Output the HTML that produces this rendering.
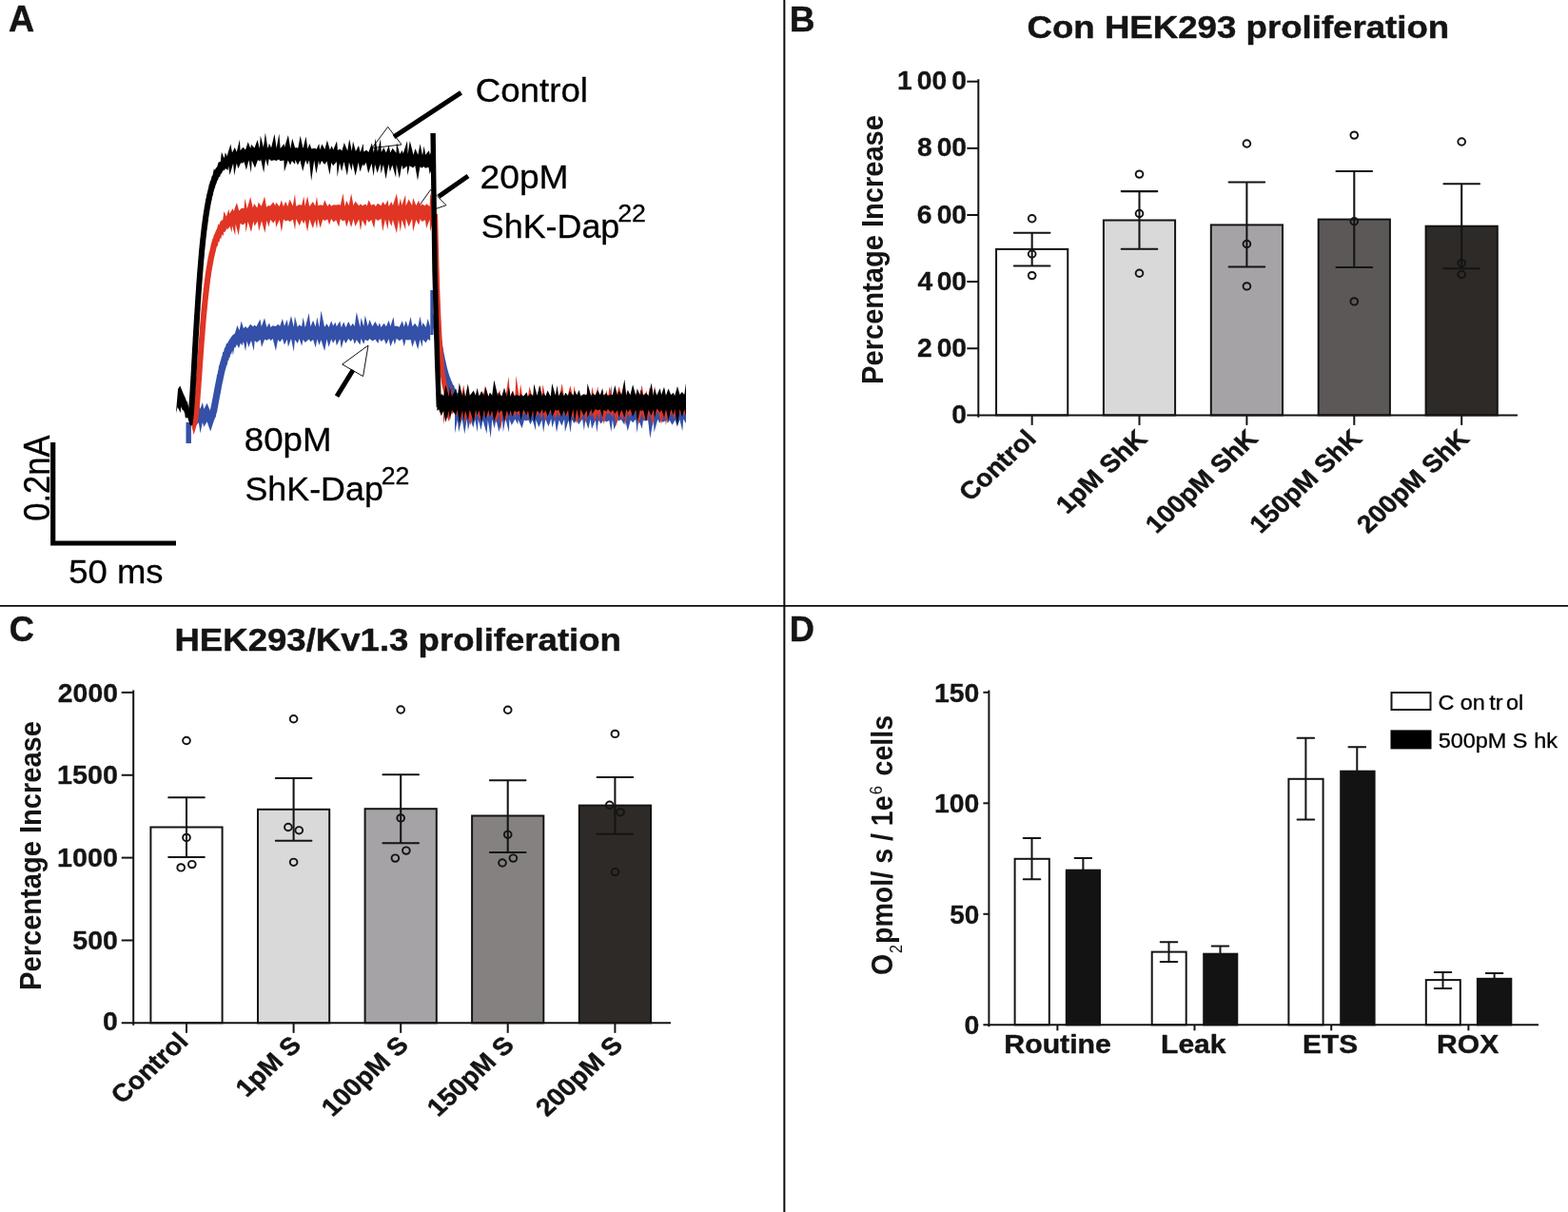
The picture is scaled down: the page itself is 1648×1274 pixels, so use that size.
<!DOCTYPE html>
<html lang="en"><head><meta charset="utf-8"><title>Figure</title>
<style>
html,body{margin:0;padding:0;background:#fff}
body{width:1648px;height:1274px;overflow:hidden}
svg{display:block;font-family:'Liberation Sans', Arial, Helvetica, sans-serif}
text{stroke-linejoin:round}
</style></head>
<body>
<svg width="1648" height="1274" viewBox="0 0 1648 1274">
<rect width="1648" height="1274" fill="#fff"/>
<line x1="0" y1="636.8" x2="1648" y2="636.8" stroke="#0c0c0c" stroke-width="1.8"/>
<line x1="824.35" y1="0" x2="824.35" y2="1274" stroke="#0c0c0c" stroke-width="2.0"/>
<text transform="translate(8.95 33.3) scale(0.9855 1)" font-size="38.2" font-weight="bold" fill="#141414" stroke="#141414" stroke-width="0.45">A</text>
<text transform="translate(829.79 33.3) scale(0.9939 1)" font-size="37.3" font-weight="bold" fill="#141414" stroke="#141414" stroke-width="0.45">B</text>
<text transform="translate(9.85 674) scale(0.9649 1)" font-size="37.5" font-weight="bold" fill="#141414" stroke="#141414" stroke-width="0.45">C</text>
<text transform="translate(829.84 674) scale(0.9729 1)" font-size="37.3" font-weight="bold" fill="#141414" stroke="#141414" stroke-width="0.45">D</text>
<g id="panel-a">
<polygon points="407.7,133.4 391,155.6 422,152" fill="#fff" stroke="#111" stroke-width="1"/>
<polygon points="452.7,199.3 440,217 458,219.5 469,215.7" fill="#fff" stroke="#111" stroke-width="1"/>
<polygon points="387,363 359.7,383 381.6,395.6" fill="#fff" stroke="#111" stroke-width="1"/>
<path d="M198.2 444V466" stroke="#3450a8" stroke-width="5.4" fill="none"/>
<polygon points="199.0,418.9 200.7,431.1 202.7,418.7 205.9,430.9 208.8,425.2 210.5,429.8 212.9,423.1 214.3,429.9 217.6,423.8 220.5,430.9 220.5,426.0 220.4,432.7 220.6,431.5 221.5,428.6 222.0,426.2 222.1,425.7 222.8,421.5 223.0,421.6 223.4,418.6 223.9,416.4 224.3,413.9 224.9,410.9 225.4,407.8 225.6,407.1 226.1,404.5 226.4,402.9 226.9,400.6 227.6,397.1 228.0,393.9 228.3,393.9 229.0,390.6 229.5,388.5 230.3,383.5 230.8,383.3 231.4,380.3 232.0,378.8 232.9,375.0 233.7,373.4 234.1,370.1 234.9,370.3 236.2,364.8 236.7,365.8 238.0,360.7 239.0,361.0 240.6,357.8 241.9,356.0 244.0,352.8 246.9,350.6 249.4,342.1 251.6,347.3 253.6,337.5 256.1,345.2 258.0,342.9 260.1,345.3 263.1,340.7 266.1,343.6 267.2,341.6 269.5,343.2 273.4,335.4 274.8,343.3 278.0,334.2 280.4,343.9 283.1,339.4 284.4,344.0 286.6,342.3 289.9,343.0 292.1,340.7 294.2,342.8 296.9,334.9 298.9,342.7 301.8,336.0 302.9,343.5 306.0,332.1 308.8,343.7 309.9,332.6 312.8,343.8 314.6,341.2 317.1,343.3 318.6,333.5 320.8,344.2 324.7,329.1 326.4,343.3 329.1,336.7 331.7,343.6 333.3,333.3 335.5,344.0 337.5,326.6 341.1,343.8 343.5,340.3 345.6,344.0 348.2,337.3 350.1,342.6 352.5,338.7 353.8,343.2 357.3,337.6 358.7,344.2 361.3,338.3 363.4,344.2 366.2,337.9 368.7,343.1 370.9,339.8 372.7,342.9 374.8,328.0 378.4,343.7 379.6,334.0 382.2,342.9 383.8,331.6 386.6,342.7 388.5,336.1 391.4,343.0 394.4,338.0 397.3,343.2 398.9,339.2 400.5,344.0 403.6,339.7 405.9,343.3 408.6,336.7 410.4,342.9 413.5,333.1 414.8,343.1 416.8,342.4 419.7,343.8 422.8,337.2 424.7,343.4 426.6,337.3 428.9,343.6 431.6,332.9 433.5,343.2 436.0,339.8 439.2,344.0 441.5,332.6 443.6,343.2 444.4,339.1 447.7,344.1 449.6,335.0 452.2,343.4 452.2,357.9 449.6,356.5 447.7,360.2 444.4,357.0 443.6,365.0 441.5,356.7 439.2,367.2 436.0,357.1 433.5,364.8 431.6,357.0 428.9,357.6 426.6,357.0 424.7,364.2 422.8,356.2 419.7,358.2 416.8,355.8 414.8,362.5 413.5,356.8 410.4,364.3 408.6,356.3 405.9,361.9 403.6,356.4 400.5,359.0 398.9,356.0 397.3,361.1 394.4,356.8 391.4,358.5 388.5,355.9 386.6,358.6 383.8,357.1 382.2,361.8 379.6,356.1 378.4,362.4 374.8,357.3 372.7,361.7 370.9,356.0 368.7,359.1 366.2,356.1 363.4,361.0 361.3,356.9 358.7,366.2 357.3,356.3 353.8,363.3 352.5,356.5 350.1,360.8 348.2,356.4 345.6,364.8 343.5,356.6 341.1,368.9 337.5,357.3 335.5,362.8 333.3,356.4 331.7,365.4 329.1,357.0 326.4,359.3 324.7,356.5 320.8,359.9 318.6,357.0 317.1,363.8 314.6,356.1 312.8,361.1 309.9,357.1 308.8,369.7 306.0,356.1 302.9,364.7 301.8,356.7 298.9,362.6 296.9,356.1 294.2,359.4 292.1,357.0 289.9,368.7 286.7,356.0 284.4,358.2 283.2,355.9 280.5,357.7 278.1,356.7 275.0,365.0 273.7,356.9 269.8,360.0 267.7,357.9 266.8,368.9 264.0,358.0 261.3,365.1 259.6,358.4 258.0,368.9 255.9,358.9 254.5,363.3 252.9,360.5 251.1,366.0 248.9,362.1 247.3,365.8 246.4,365.0 244.9,373.6 244.2,368.2 242.9,373.2 242.7,371.0 241.4,376.3 240.7,376.1 240.4,379.0 239.6,379.1 238.7,383.9 238.1,383.8 237.6,386.5 237.1,387.8 236.3,391.1 235.8,392.9 235.1,396.8 234.9,397.1 234.5,399.5 233.7,402.7 233.3,405.1 232.9,406.8 232.5,409.7 232.3,410.2 231.8,413.3 231.2,416.1 230.8,418.6 230.3,420.8 229.8,423.5 229.6,424.4 229.0,428.4 228.8,428.6 228.3,432.2 227.3,435.0 226.9,437.8 225.1,441.5 221.2,453.5 217.6,443.2 214.3,448.7 212.9,444.0 210.5,455.4 208.8,444.2 205.9,447.2 202.7,443.9 200.7,446.3 199.0,443.1" fill="#3450a8"/>
<path d="M453.9 305V352" stroke="#3450a8" stroke-width="3.2" fill="none"/>
<polygon points="460.6,329.5 460.8,331.2 461.2,334.5 461.3,336.0 461.7,338.9 461.8,340.2 462.4,344.4 462.7,346.7 462.8,347.1 463.4,351.5 463.4,352.0 463.8,354.8 464.3,357.7 464.8,360.8 465.1,362.6 465.2,363.5 465.8,366.6 466.2,369.3 466.6,370.9 467.2,374.2 467.4,374.9 468.1,378.9 468.3,379.1 468.9,382.1 469.4,384.2 470.0,387.0 470.8,389.8 471.3,391.8 472.2,394.5 472.6,395.8 473.6,397.9 474.4,400.9 474.9,400.6 475.8,404.1 477.3,405.6 477.9,408.3 479.4,409.0 480.3,412.8 481.7,413.4 482.4,415.3 483.9,413.0 485.3,418.2 487.9,415.5 488.1,420.4 491.4,418.2 492.2,421.6 494.2,417.3 496.3,424.4 498.2,424.0 500.6,424.4 501.8,422.5 505.1,426.1 503.9,436.6 500.6,440.1 499.0,436.8 496.3,439.4 494.0,435.5 491.5,434.9 489.2,432.7 487.7,435.6 484.2,429.7 483.3,432.3 480.4,426.3 478.6,427.3 476.9,421.8 475.8,423.0 474.3,418.3 473.1,417.0 471.6,413.3 470.8,412.7 469.2,408.3 468.2,407.2 467.6,404.3 466.8,402.2 465.7,398.7 465.3,398.2 464.4,394.4 463.9,392.9 463.1,389.4 462.4,387.0 461.8,384.3 461.3,382.1 461.1,380.8 460.3,377.4 460.1,376.1 459.5,373.4 459.1,370.8 458.7,368.7 458.1,365.0 458.0,364.5 457.6,362.2 457.2,359.4 456.7,356.1 456.3,353.6 456.2,352.7 455.6,348.6 455.6,347.9 455.2,345.7 454.7,341.4 454.5,340.3 454.2,337.1 454.0,335.8 453.6,332.2 453.4,330.6" fill="#3450a8"/>
<polygon points="478.0,422.0 480.9,425.9 482.1,422.2 485.7,426.7 488.3,423.0 490.7,425.1 491.9,422.6 494.6,426.6 497.3,422.7 499.3,426.6 501.8,422.2 502.7,426.2 505.6,424.4 507.5,425.5 511.5,416.0 512.8,426.2 515.8,422.1 517.2,425.6 519.7,412.1 521.4,426.3 524.4,420.2 528.0,425.8 528.8,413.5 531.4,425.8 534.9,422.2 535.4,425.3 537.8,413.3 541.4,426.5 544.2,420.5 544.7,425.2 548.6,423.7 551.1,426.5 551.9,415.3 555.4,426.5 557.5,414.8 559.7,426.1 563.1,410.2 563.4,425.1 566.3,416.7 569.6,426.4 571.1,423.6 573.3,425.5 576.5,422.9 579.3,425.6 580.3,422.1 583.1,426.5 585.0,423.2 587.6,426.4 590.4,424.2 593.1,426.4 593.9,420.6 597.5,426.0 599.6,421.4 601.1,425.2 603.3,418.4 606.0,425.7 608.1,422.3 612.1,426.7 613.9,420.0 615.3,426.2 618.3,413.9 620.6,426.2 622.0,413.5 625.9,426.0 627.3,423.6 629.1,425.4 631.6,417.3 634.5,426.5 637.3,417.5 640.2,426.3 642.3,404.6 643.9,425.8 645.4,415.6 649.4,426.6 650.6,422.7 652.7,425.9 656.3,416.0 657.2,425.8 659.7,413.0 662.8,425.6 665.1,422.4 668.2,425.9 669.5,420.0 671.2,426.6 674.8,404.2 676.0,426.5 678.3,415.3 681.1,426.3 683.3,422.4 686.9,426.7 687.5,414.0 691.3,426.4 693.3,412.8 694.5,426.3 696.8,415.8 700.9,425.1 701.7,422.9 703.8,426.5 706.5,424.0 709.6,425.8 711.8,417.5 714.4,425.6 717.3,411.2 718.2,426.0 721.0,415.3 721.0,445.1 718.2,440.6 717.3,453.2 714.4,441.1 711.8,448.8 709.6,441.4 706.5,446.7 703.8,441.8 701.7,445.0 700.9,441.5 696.8,443.8 694.5,441.8 693.3,444.9 691.3,440.7 687.5,454.4 686.9,440.5 683.3,460.8 681.1,441.4 678.3,442.4 676.0,441.8 674.8,450.8 671.2,441.4 669.5,455.2 668.2,440.7 665.1,444.2 662.8,441.4 659.7,453.3 657.2,440.7 656.3,446.5 652.7,441.0 650.6,442.5 649.4,441.4 645.4,451.5 643.9,441.1 642.3,453.9 640.2,441.9 637.3,443.6 634.5,441.6 631.6,445.6 629.1,441.5 627.3,454.7 625.9,441.4 622.0,450.7 620.6,440.5 618.3,450.9 615.3,440.7 613.9,452.8 612.1,440.6 608.1,446.3 606.0,441.5 603.3,445.0 601.1,440.9 599.6,455.1 597.5,441.8 593.9,453.9 593.1,440.8 590.4,447.5 587.6,441.4 585.0,454.5 583.1,440.9 580.3,449.5 579.3,440.3 576.5,448.2 573.3,440.8 571.1,454.7 569.6,441.6 566.3,449.0 563.4,441.2 563.1,452.8 559.7,441.5 557.5,446.2 555.4,441.6 551.9,442.5 551.1,440.9 548.6,450.3 544.7,441.2 544.2,446.2 541.4,440.4 537.8,446.9 535.4,440.7 534.9,454.6 531.4,440.3 528.8,454.2 528.0,441.0 524.4,454.1 521.4,441.1 519.7,450.4 517.2,440.7 515.8,460.6 512.8,441.7 511.5,456.0 507.5,441.5 505.6,451.9 502.7,441.1 501.8,454.2 499.3,441.0 497.3,449.8 494.6,440.6 491.9,452.6 490.7,440.5 488.3,456.2 485.7,440.4 482.1,454.1 480.9,441.3 478.0,455.4" fill="#3450a8"/>
<polygon points="201.5,435.0 202.2,424.9 202.6,437.4 202.7,435.8 202.8,436.1 203.1,433.0 203.4,431.6 203.6,428.7 203.9,425.7 204.0,423.9 204.3,421.3 204.4,420.0 204.7,416.2 204.8,415.3 204.9,413.0 205.2,409.9 205.4,407.0 205.5,404.7 205.7,402.2 205.9,400.2 206.0,398.8 206.1,396.3 206.3,393.5 206.4,391.9 206.7,388.6 206.9,386.1 207.0,384.1 207.1,382.1 207.2,380.7 207.4,377.9 207.6,375.9 207.8,373.4 207.9,370.9 208.1,368.3 208.2,366.8 208.5,363.2 208.7,361.1 208.9,358.5 208.9,357.4 209.2,354.2 209.4,352.0 209.5,350.2 209.7,347.9 209.9,344.5 210.1,342.9 210.3,339.8 210.5,338.5 210.7,335.3 210.9,333.1 211.1,330.6 211.3,328.4 211.5,326.3 211.7,324.7 211.9,322.2 212.2,319.3 212.3,318.2 212.6,315.5 212.8,313.5 213.1,310.6 213.4,307.2 213.6,306.5 213.9,302.7 214.2,300.9 214.4,298.3 214.6,297.3 215.1,293.3 215.3,292.3 215.7,288.8 215.9,287.7 216.4,283.8 216.7,282.5 216.9,280.5 217.3,279.0 217.9,274.6 218.2,274.0 218.6,270.6 218.9,270.0 219.7,265.6 220.3,263.8 220.9,260.9 221.1,260.3 222.1,255.1 222.3,255.6 223.2,251.4 223.9,250.5 224.9,246.9 225.8,245.5 226.8,242.7 228.0,240.6 229.6,235.1 230.3,236.5 231.7,232.4 234.2,231.1 235.4,221.9 237.9,227.8 240.5,219.8 241.2,224.5 244.7,219.3 245.7,222.1 248.9,212.9 251.2,221.5 254.0,218.8 256.5,218.9 257.4,208.6 259.8,219.2 263.2,207.0 265.8,218.4 267.0,213.9 270.3,218.5 271.7,212.6 274.7,216.7 278.1,206.6 280.1,217.7 282.1,216.1 284.0,216.5 287.2,212.2 289.2,216.2 290.0,212.8 293.7,216.9 295.8,210.2 297.9,217.0 300.2,211.7 302.3,217.0 304.5,209.5 307.8,216.4 310.0,203.8 311.2,216.8 314.7,214.9 317.1,215.8 319.3,206.5 320.6,216.6 323.1,206.2 325.3,217.1 328.9,211.9 331.3,216.6 333.0,206.4 334.3,216.3 336.6,215.2 339.4,216.0 341.2,210.3 344.3,216.9 346.1,213.9 348.1,216.4 350.6,215.3 353.2,215.6 356.2,215.1 357.8,215.7 360.5,203.3 362.4,216.9 364.2,210.8 366.6,215.9 369.2,203.5 371.5,216.1 373.4,211.4 377.2,216.3 379.0,214.2 380.8,216.2 384.2,214.6 385.6,216.4 387.6,210.2 390.2,215.8 393.2,214.5 394.7,216.9 397.0,213.7 400.6,216.3 402.2,211.9 404.9,215.6 407.6,210.3 408.6,216.9 411.4,212.0 412.9,216.1 416.9,203.5 418.9,217.0 420.9,208.8 422.3,215.8 426.2,204.7 426.6,216.2 429.7,209.4 433.1,215.9 434.1,208.0 437.4,216.0 440.1,210.5 441.8,216.5 443.3,214.4 447.0,216.2 448.1,214.0 451.6,216.9 452.2,202.8 455.3,216.2 455.3,231.2 452.2,243.4 451.6,230.7 448.1,240.0 447.0,231.3 443.3,232.9 441.8,230.1 440.1,236.6 437.4,231.0 434.1,243.6 433.1,230.1 429.7,238.2 426.6,229.8 426.2,241.6 422.3,230.9 420.9,243.7 418.9,230.8 416.9,245.3 412.9,231.0 411.4,238.1 408.6,230.6 407.6,241.0 404.9,230.4 402.2,243.2 400.6,230.0 397.0,232.1 394.7,230.1 393.2,240.0 390.2,231.1 387.6,233.7 385.6,230.5 384.2,238.0 380.8,231.3 379.0,242.6 377.2,230.4 373.4,238.0 371.5,230.2 369.2,239.1 366.6,231.1 364.2,238.6 362.4,231.2 360.5,232.4 357.8,230.2 356.2,238.4 353.2,231.2 350.6,233.6 348.1,230.1 346.1,236.5 344.3,230.4 341.2,231.9 339.4,230.5 336.6,239.7 334.3,229.9 333.0,240.8 331.3,231.2 328.9,240.1 325.3,230.6 323.1,243.6 320.6,231.3 319.4,235.3 317.1,231.2 314.8,237.3 311.2,230.0 310.1,241.7 307.9,230.8 304.6,233.1 302.4,231.5 300.3,232.5 298.0,230.5 295.9,244.0 293.8,231.0 290.1,239.0 289.3,231.3 287.4,234.6 284.2,231.1 282.4,238.4 280.4,231.8 278.4,244.8 275.0,232.3 272.1,243.1 270.8,232.5 267.5,237.7 266.4,232.6 264.0,244.1 260.6,232.9 258.4,244.3 257.7,234.2 255.3,236.6 252.6,234.7 250.7,247.4 247.7,235.5 247.2,247.6 243.9,237.0 243.7,244.6 241.5,238.1 239.2,241.2 238.6,240.1 236.3,244.1 235.1,243.8 234.8,248.1 233.2,246.4 232.2,251.5 231.3,250.1 230.5,254.6 229.6,254.1 228.9,258.3 228.1,258.7 227.8,259.6 226.9,263.0 226.7,264.5 226.1,266.1 225.5,269.2 224.8,271.9 224.5,274.1 224.1,275.8 223.8,277.8 223.2,280.6 222.8,283.4 222.6,284.0 222.3,286.4 221.9,289.0 221.6,291.2 221.2,293.5 221.0,295.6 220.6,298.5 220.4,300.0 220.2,301.9 219.9,304.7 219.5,307.5 219.4,309.0 219.1,311.5 218.7,314.9 218.5,316.5 218.3,319.6 218.2,320.1 217.8,323.9 217.7,325.5 217.5,327.3 217.3,329.2 217.1,331.8 216.9,333.9 216.7,336.3 216.4,339.2 216.3,340.9 216.1,343.6 215.9,345.5 215.7,348.6 215.5,351.2 215.3,352.7 215.2,355.3 214.9,358.1 214.8,359.3 214.6,361.7 214.5,364.0 214.2,367.4 214.1,369.2 213.9,371.5 213.7,374.1 213.6,376.5 213.4,378.8 213.2,381.3 213.1,383.0 213.0,384.7 212.8,386.9 212.7,389.1 212.4,392.9 212.3,394.0 212.1,397.1 212.0,399.3 211.8,400.9 211.7,402.7 211.5,405.6 211.4,407.6 211.1,410.8 210.9,413.6 210.7,416.1 210.7,416.8 210.4,420.9 210.3,422.0 210.0,425.0 209.9,426.5 209.6,430.0 209.3,432.5 209.1,434.9 208.8,437.3 208.6,439.3 207.5,444.3 203.6,457.0 201.5,448.1" fill="#e03524"/>
<polygon points="460.1,224.9 460.1,226.7 460.2,229.6 460.3,231.8 460.3,235.0 460.3,235.9 460.4,238.6 460.5,240.8 460.5,244.0 460.6,245.3 460.6,248.9 460.7,249.6 460.8,253.0 460.8,255.9 460.9,258.1 460.9,259.3 461.0,261.2 461.1,265.1 461.1,267.8 461.2,269.6 461.2,271.1 461.3,274.4 461.4,276.6 461.4,278.3 461.5,281.1 461.6,283.1 461.7,285.7 461.7,288.3 461.8,289.4 461.9,293.4 462.0,295.9 462.0,297.6 462.1,300.1 462.1,300.9 462.2,303.5 462.4,307.3 462.4,309.3 462.5,311.2 462.6,312.7 462.7,315.8 462.8,318.2 462.9,320.1 462.9,321.9 463.1,325.0 463.1,326.6 463.2,328.8 463.4,332.5 463.5,335.2 463.6,336.0 463.7,338.3 463.8,341.4 463.9,343.1 464.1,346.6 464.2,348.6 464.3,350.6 464.5,354.0 464.6,355.8 464.7,357.1 464.9,359.3 465.1,362.4 465.2,364.3 465.4,367.8 465.5,368.4 465.7,371.2 465.9,373.3 466.2,376.7 466.4,379.2 466.6,381.3 466.7,382.5 467.1,386.2 467.1,386.7 467.5,389.8 467.9,393.2 468.2,395.5 468.3,395.8 468.9,399.5 469.1,400.7 469.6,403.7 470.0,405.3 470.4,407.3 471.2,410.0 471.9,412.3 472.6,414.1 473.5,416.0 474.2,417.4 476.2,419.7 477.2,420.1 473.8,425.9 472.4,424.3 470.0,421.2 468.8,419.0 467.7,416.6 466.9,414.5 466.2,411.9 465.4,408.8 464.9,406.7 464.5,405.0 463.9,401.9 463.7,400.4 463.2,396.8 463.1,396.4 462.8,394.0 462.3,390.4 462.0,387.4 461.9,386.8 461.5,383.1 461.4,381.9 461.2,379.7 461.0,377.2 460.7,373.8 460.5,371.6 460.3,368.9 460.3,368.2 460.0,364.7 459.9,362.8 459.7,359.7 459.5,357.5 459.4,356.1 459.3,354.4 459.1,350.9 459.0,348.9 458.9,347.0 458.7,343.4 458.6,341.6 458.5,338.6 458.4,336.3 458.3,335.4 458.2,332.8 458.0,329.1 457.9,326.9 457.9,325.2 457.7,322.1 457.7,320.3 457.6,318.4 457.5,316.0 457.4,312.9 457.3,311.4 457.3,309.5 457.2,307.5 457.0,303.7 456.9,301.1 456.9,300.3 456.8,297.7 456.8,296.1 456.7,293.6 456.6,289.6 456.5,288.5 456.5,285.9 456.4,283.2 456.3,281.3 456.2,278.5 456.2,276.8 456.1,274.6 456.0,271.3 456.0,269.8 455.9,268.0 455.9,265.3 455.8,261.4 455.7,259.4 455.7,258.2 455.6,256.0 455.6,253.2 455.5,249.7 455.4,249.0 455.4,245.5 455.3,244.1 455.3,240.9 455.2,238.7 455.1,236.0 455.1,235.1 455.1,231.9 455.0,229.7 454.9,226.8 454.9,225.1" fill="#e03524"/>
<polygon points="466.0,417.1 468.4,407.6 471.6,417.3 473.6,403.3 474.9,417.5 477.1,410.2 480.4,418.5 481.7,415.8 484.5,417.7 487.3,404.4 489.2,417.8 490.7,413.4 494.9,418.1 497.2,411.6 498.3,418.2 501.3,411.9 504.4,417.1 506.5,411.9 507.2,418.0 510.0,405.3 512.4,418.6 515.8,412.7 517.7,418.5 519.0,412.1 521.1,417.7 525.4,410.0 526.1,417.1 529.0,416.5 531.2,418.7 534.6,395.5 536.0,417.4 539.2,410.2 541.3,417.9 542.4,394.7 545.7,417.2 547.1,403.4 549.3,417.9 553.2,413.2 554.8,418.2 556.5,406.2 559.7,417.6 562.1,409.0 564.8,418.3 566.9,405.0 569.1,418.0 570.6,403.9 573.1,417.5 576.0,415.5 578.1,418.7 580.6,413.4 583.9,417.9 586.1,411.2 587.7,418.3 590.7,403.0 593.0,417.9 594.1,415.4 596.1,418.5 599.3,405.2 602.5,418.2 603.3,405.4 605.8,418.0 609.6,414.7 610.3,417.3 614.2,413.7 615.2,417.6 618.3,409.9 621.3,418.6 622.2,406.6 625.0,418.1 628.4,406.3 629.2,418.7 631.5,413.9 634.8,418.5 637.5,410.3 639.0,417.9 640.6,406.5 644.1,418.4 645.3,415.4 647.6,418.0 650.5,406.0 654.0,417.3 656.1,414.2 657.6,417.5 659.3,410.3 661.7,418.2 664.9,409.4 667.2,418.1 669.5,410.7 671.1,418.4 674.8,405.7 676.7,417.4 679.4,410.8 681.1,417.8 682.7,407.2 686.1,417.8 688.1,405.8 689.6,418.1 692.0,412.6 695.1,417.7 698.4,409.0 699.8,417.2 702.6,416.2 704.8,418.5 706.4,414.8 708.9,418.1 710.6,413.0 713.2,418.3 716.4,411.9 719.0,418.5 721.0,410.3 721.0,432.8 719.0,436.4 716.4,433.3 713.2,435.4 710.6,433.3 708.9,441.1 706.4,433.3 704.8,437.1 702.6,432.4 699.8,447.2 698.4,433.2 695.1,445.8 692.0,432.8 689.6,434.9 688.1,433.6 686.1,447.8 682.7,432.8 681.1,443.8 679.4,432.7 676.7,443.1 674.8,433.7 671.1,446.0 669.5,433.1 667.2,434.8 664.9,432.7 661.7,438.5 659.3,432.6 657.6,448.0 656.1,432.9 654.0,442.1 650.5,433.7 647.6,448.1 645.3,432.6 644.1,439.0 640.6,433.8 639.0,435.6 637.5,433.8 634.8,446.0 631.5,432.8 629.2,443.3 628.4,433.8 625.0,442.7 622.2,432.6 621.3,437.5 618.3,433.6 615.2,444.5 614.2,432.4 610.3,442.8 609.6,433.8 605.8,445.6 603.3,433.2 602.5,440.9 599.3,432.4 596.1,437.6 594.1,432.4 593.0,436.8 590.7,432.8 587.7,438.9 586.1,433.0 583.9,440.6 580.6,432.9 578.1,434.6 576.0,433.1 573.1,441.4 570.6,433.1 569.1,442.1 566.9,432.6 564.8,436.9 562.1,433.2 559.7,437.1 556.5,433.0 554.8,440.8 553.2,432.4 549.3,436.0 547.1,433.5 545.7,437.1 542.4,433.2 541.3,438.9 539.2,432.6 536.0,436.8 534.6,432.7 531.2,442.9 529.0,432.9 526.1,452.3 525.4,433.6 521.1,444.5 519.0,433.9 517.7,439.8 515.8,433.9 512.4,438.9 510.0,433.9 507.2,437.6 506.5,433.2 504.4,442.1 501.3,433.1 498.3,441.7 497.2,432.8 494.9,447.2 490.7,433.3 489.2,446.7 487.3,432.8 484.5,442.1 481.7,432.5 480.4,437.0 477.1,432.6 474.9,435.7 473.6,433.8 471.6,442.9 468.4,433.4 466.0,446.5" fill="#e03524"/>
<polygon points="187.1,408.7 189.3,405.5 193.0,414.5 194.7,418.0 196.2,422.3 196.8,422.0 198.0,427.1 199.2,431.5 199.5,432.7 200.4,436.0 195.6,439.8 194.6,438.2 194.4,435.4 193.3,432.3 192.3,431.1 191.8,431.2 190.3,427.5 189.7,434.0 186.7,427.9 184.9,434.3" fill="#000"/>
<polygon points="196.1,435.6 197.4,438.6 197.1,439.9 197.4,437.7 197.8,434.5 197.9,432.8 198.2,429.9 198.2,429.6 198.5,425.5 198.6,423.9 198.8,421.5 198.9,420.4 199.1,417.3 199.3,414.6 199.4,412.6 199.6,410.3 199.7,407.5 199.8,405.6 199.9,404.2 200.1,401.0 200.3,398.1 200.4,395.7 200.5,394.9 200.7,391.1 200.8,389.6 200.9,387.4 201.1,383.8 201.1,383.4 201.3,379.8 201.4,378.8 201.6,375.0 201.6,374.4 201.8,370.9 201.9,369.5 202.0,366.7 202.1,365.2 202.3,362.4 202.5,359.3 202.6,356.6 202.7,354.6 202.8,353.0 203.0,350.4 203.1,348.0 203.2,346.2 203.4,343.4 203.6,340.2 203.7,338.7 203.8,336.8 204.0,333.6 204.1,331.2 204.2,330.6 204.4,327.7 204.6,324.2 204.7,322.8 204.8,321.3 205.0,318.2 205.1,316.0 205.3,313.2 205.4,311.3 205.7,307.8 205.8,306.1 205.9,305.0 206.1,301.8 206.2,299.9 206.3,298.2 206.5,295.8 206.8,291.9 206.9,290.5 207.0,288.3 207.3,285.5 207.5,282.9 207.6,281.6 207.8,279.5 208.0,276.6 208.2,274.2 208.4,272.1 208.6,269.5 208.8,267.7 209.0,264.5 209.2,262.8 209.5,259.7 209.7,257.6 210.0,254.8 210.1,253.9 210.3,251.3 210.7,248.8 210.8,247.2 211.1,244.9 211.4,242.1 211.6,240.5 211.9,237.3 212.3,234.7 212.6,232.2 212.9,230.2 213.3,227.0 213.7,225.0 213.9,222.7 214.4,220.5 214.8,217.5 215.1,216.3 215.5,213.6 215.8,212.2 216.3,209.1 216.7,207.9 217.2,204.8 218.0,202.1 218.5,199.4 219.1,197.6 219.9,193.0 220.1,194.1 220.8,190.5 221.8,189.0 222.5,185.6 223.6,183.9 224.9,177.3 225.9,179.1 226.6,177.1 228.2,175.2 229.6,170.4 231.7,170.0 232.9,159.7 235.6,166.2 236.9,160.2 238.6,164.1 242.4,151.4 244.0,160.6 246.7,155.0 248.8,159.8 251.9,146.7 252.6,158.3 255.5,154.8 258.0,157.5 260.7,149.3 263.2,156.1 264.1,151.9 267.5,155.4 270.6,147.1 272.8,156.0 273.8,142.5 276.9,154.8 278.9,139.6 281.4,156.0 282.9,150.7 285.1,155.2 288.5,140.7 290.6,155.8 293.3,140.5 294.7,155.9 298.6,150.9 299.0,155.1 302.9,142.1 305.3,156.2 307.2,145.5 310.3,156.3 310.6,154.7 313.2,155.7 315.7,142.7 318.5,156.0 321.5,143.6 323.4,156.5 325.3,150.9 327.5,156.6 330.5,155.7 332.7,156.8 335.3,151.1 336.2,157.4 338.4,151.5 341.4,157.1 343.9,147.5 346.8,157.6 348.7,153.2 350.3,157.4 354.1,148.3 354.9,158.0 357.3,156.5 359.4,158.6 361.8,150.1 365.2,158.4 367.2,146.2 369.8,158.8 371.0,148.4 373.9,159.1 377.0,152.9 378.7,159.9 381.7,150.7 382.3,159.5 385.1,157.8 387.4,160.0 390.9,150.2 392.9,160.5 394.4,145.4 396.9,159.5 400.0,145.7 400.8,160.1 403.3,155.1 405.8,160.4 408.7,152.7 410.2,160.4 412.6,155.7 416.4,160.7 417.0,149.7 420.1,162.0 422.6,158.0 423.8,161.3 428.0,147.9 428.7,161.9 430.8,147.9 434.5,162.7 436.5,156.3 439.3,162.8 441.6,151.2 444.0,163.3 445.7,153.6 447.2,162.8 450.8,158.3 452.0,163.0 454.7,154.3 454.5,175.0 451.7,183.3 450.5,175.7 446.9,176.7 445.4,174.9 443.7,176.4 441.3,175.4 439.0,189.7 436.2,174.0 434.2,176.6 430.5,174.2 428.4,184.5 427.7,174.4 423.5,177.9 422.3,173.5 419.8,187.4 416.7,172.9 416.1,186.5 412.3,173.5 409.9,180.8 408.4,172.5 405.5,188.3 403.0,173.0 400.5,182.5 399.7,172.3 396.6,181.7 394.1,172.7 392.6,185.2 390.6,171.7 387.1,182.3 384.8,171.1 382.0,174.8 381.4,172.2 378.4,180.6 376.7,170.7 373.6,184.8 370.7,171.5 369.5,179.4 366.9,170.4 364.9,184.5 361.5,169.9 359.1,180.3 357.0,171.2 354.6,186.0 353.8,169.9 350.0,174.3 348.4,170.7 346.5,183.7 343.6,169.5 341.1,173.1 338.1,169.1 335.9,174.1 335.0,168.7 332.4,182.4 330.2,168.5 327.2,189.9 325.0,168.2 323.1,173.2 321.2,168.2 318.2,179.9 315.4,168.4 312.9,173.6 310.4,167.9 310.1,172.7 306.9,168.9 305.0,173.6 302.7,168.5 298.8,180.5 298.4,168.5 294.5,169.2 293.1,167.4 290.4,169.0 288.4,168.2 285.0,169.0 282.8,167.0 281.4,175.1 279.1,167.2 277.2,181.6 274.1,167.2 273.2,169.8 271.1,168.1 268.0,176.4 264.7,168.8 263.9,181.7 261.5,168.3 258.9,178.7 256.6,170.2 253.8,172.0 253.4,170.6 250.4,177.2 248.7,171.7 246.2,184.6 245.1,171.8 241.5,183.9 240.2,174.5 239.4,178.9 236.9,177.1 236.2,178.8 234.2,179.6 233.1,182.1 231.8,183.3 231.1,186.2 230.3,185.6 229.1,188.8 228.1,190.5 227.4,193.0 226.5,194.7 225.8,198.2 225.7,197.3 224.9,200.2 224.3,202.3 223.8,205.1 223.0,207.5 222.5,210.7 222.2,211.4 221.7,214.2 221.4,215.4 221.0,218.3 220.7,219.4 220.3,222.3 219.8,224.9 219.6,226.8 219.2,228.7 218.9,232.2 218.6,233.4 218.3,236.4 217.9,238.8 217.6,241.7 217.3,243.3 217.1,246.0 216.8,248.1 216.6,249.8 216.3,252.5 216.1,254.8 216.0,256.0 215.7,258.8 215.5,260.5 215.2,263.7 215.0,265.6 214.8,268.7 214.6,270.5 214.4,272.8 214.2,275.1 214.0,277.5 213.7,280.2 213.6,282.5 213.5,283.8 213.3,286.2 213.0,289.3 212.9,291.2 212.8,292.7 212.5,296.6 212.3,298.9 212.2,300.7 212.1,302.4 211.8,305.8 211.7,306.9 211.6,308.4 211.4,312.0 211.3,313.9 211.1,316.6 210.9,318.8 210.7,321.9 210.7,323.4 210.6,324.9 210.3,328.2 210.2,331.1 210.1,331.8 210.0,334.2 209.8,337.2 209.7,339.3 209.6,340.6 209.4,344.0 209.2,346.7 209.1,348.5 209.0,350.9 208.8,353.5 208.7,355.1 208.6,357.2 208.5,359.9 208.3,362.9 208.1,365.8 208.0,367.4 207.9,370.3 207.8,371.5 207.6,375.0 207.6,375.6 207.4,379.3 207.3,380.4 207.1,384.0 207.1,384.4 206.9,388.0 206.7,390.1 206.7,391.7 206.4,395.5 206.4,396.2 206.3,398.7 206.1,401.6 205.9,404.8 205.8,406.2 205.7,408.1 205.5,410.7 205.4,413.3 205.3,415.3 205.1,418.1 204.9,421.2 204.8,422.2 204.6,424.7 204.5,426.1 204.2,430.3 204.1,431.0 203.9,433.7 203.7,435.4 203.4,438.7 203.1,441.4 202.2,447.0 199.9,447.6" fill="#000"/>
<path d="M455.1 140 L457 285 L459.6 380 L461.3 428" fill="none" stroke="#000" stroke-width="5.4" stroke-linejoin="round"/>
<polygon points="459.7,412.3 461.5,416.6 464.2,413.9 466.3,416.2 468.3,404.4 471.9,416.9 472.8,406.2 474.8,416.8 479.1,409.0 480.9,416.4 482.8,402.5 486.1,416.9 487.3,409.5 489.0,417.4 491.8,403.4 493.8,415.8 497.8,410.5 499.9,415.8 501.5,407.8 503.6,416.6 506.1,411.1 509.0,415.9 510.3,406.5 513.4,416.8 514.8,412.5 517.2,415.8 519.3,399.5 523.4,416.7 523.9,412.4 527.4,416.6 530.0,407.5 532.8,416.9 534.9,406.4 536.6,417.1 538.5,410.9 540.9,416.8 542.7,414.5 546.0,416.6 547.5,414.2 550.1,416.5 553.6,412.3 554.9,417.0 557.2,413.8 560.3,416.1 561.2,403.5 564.5,415.7 567.4,405.0 569.8,416.5 571.0,413.1 573.5,416.2 575.5,410.5 578.8,416.7 580.2,402.9 583.8,415.6 585.6,404.9 587.0,416.2 590.0,411.1 592.8,416.6 594.3,412.7 597.1,416.0 598.7,411.2 602.4,415.8 604.0,410.4 606.2,415.3 608.7,410.1 610.2,415.9 613.5,414.5 616.7,415.2 617.5,403.0 621.3,416.5 622.5,413.6 625.8,415.3 628.3,410.2 630.8,415.3 633.2,408.1 634.4,415.6 637.3,413.3 638.9,416.1 642.2,414.3 643.8,415.2 646.3,405.0 649.1,416.1 650.3,411.1 653.2,415.1 656.4,398.8 658.3,416.2 659.8,409.8 662.4,415.2 665.1,404.2 668.3,415.9 669.7,408.4 672.9,415.8 673.6,409.4 676.1,415.4 679.1,412.9 681.6,416.2 684.6,402.4 686.8,416.1 688.0,407.9 690.3,415.6 693.7,408.3 695.1,414.9 698.0,406.8 699.9,416.1 702.5,408.6 705.2,414.9 707.9,412.7 709.1,416.2 712.0,406.1 714.6,414.9 716.7,412.2 719.3,414.8 721.0,402.6 721.0,436.9 719.3,430.2 716.8,438.3 714.6,429.8 712.0,447.0 709.1,429.6 708.0,436.3 705.3,430.2 702.6,441.5 699.9,430.1 698.0,438.5 695.1,430.6 693.7,433.7 690.3,429.5 688.0,439.3 686.8,430.2 684.6,436.8 681.6,430.8 679.1,442.9 676.1,430.9 673.6,432.2 673.0,429.7 669.8,443.0 668.3,430.6 665.1,437.9 662.5,430.1 659.9,433.6 658.4,430.1 656.5,438.7 653.2,430.7 650.3,438.4 649.2,431.0 646.3,434.8 643.8,430.8 642.2,433.5 638.9,430.0 637.3,432.6 634.5,430.8 633.3,438.6 630.8,430.2 628.3,431.6 625.8,429.9 622.5,434.9 621.3,430.1 617.6,438.8 616.7,431.3 613.5,436.7 610.3,430.3 608.7,441.0 606.3,430.1 604.0,443.4 602.4,429.9 598.7,444.7 597.1,430.8 594.3,436.9 592.8,431.5 590.0,437.9 587.0,430.3 585.6,431.9 583.9,430.6 580.2,437.7 578.8,430.2 575.5,437.4 573.5,431.4 571.0,434.8 569.8,430.3 567.4,434.8 564.5,431.6 561.3,443.8 560.3,431.1 557.2,442.7 554.9,431.3 553.6,436.4 550.1,430.5 547.5,441.9 546.0,431.7 542.7,433.5 540.9,431.5 538.5,437.7 536.6,431.2 534.9,437.6 532.8,431.4 530.0,442.8 527.4,431.0 524.0,434.4 523.5,430.3 519.3,442.8 517.2,431.8 514.8,437.8 513.4,431.1 510.3,440.7 509.0,430.5 506.1,444.0 503.6,431.4 501.5,436.5 500.0,430.7 497.8,443.8 493.8,430.6 491.9,441.6 489.0,431.6 487.3,441.8 486.1,431.0 482.8,445.2 480.9,430.8 479.1,436.4 474.8,431.1 472.8,442.4 471.9,431.8 468.3,443.9 466.3,431.6 463.9,437.2 461.1,430.3 459.3,432.1" fill="#000"/>
<line x1="414" y1="143.8" x2="484.6" y2="97.3" stroke="#000" stroke-width="5"/>
<line x1="461" y1="206.6" x2="492" y2="185" stroke="#000" stroke-width="5"/>
<line x1="371" y1="389" x2="354" y2="416.6" stroke="#000" stroke-width="5"/>
<text transform="translate(499.66 107) scale(1.0397 1)" font-size="35.3" fill="#000" stroke="#000" stroke-width="0.3">Control</text>
<text transform="translate(504.54 198.4) scale(1.0539 1)" font-size="35.3" fill="#000" stroke="#000" stroke-width="0.3">20pM</text>
<text transform="scale(1.016 1)" font-size="35.3" fill="#000" stroke="#000" stroke-width="0.3"><tspan x="497.82" y="249.8">ShK-Dap</tspan><tspan x="639.04" y="232.7" font-size="26.3">22</tspan></text>
<text transform="translate(256.83 474) scale(1.0388 1)" font-size="35.3" fill="#000" stroke="#000" stroke-width="0.3">80pM</text>
<text transform="scale(1.016 1)" font-size="35.3" fill="#000" stroke="#000" stroke-width="0.3"><tspan x="253.33" y="526">ShK-Dap</tspan><tspan x="394.35" y="508.9" font-size="26.3">22</tspan></text>
<path d="M55.7 465V571H185" fill="none" stroke="#000" stroke-width="5.2" stroke-linejoin="miter"/>
<text transform="translate(51.5 547.71) rotate(-90) scale(0.9789 1.09)" font-size="35.3" fill="#000" stroke="#000" stroke-width="0.3">0.2nA</text>
<text transform="translate(72.24 613) scale(1.0334 1)" font-size="35.3" fill="#000" stroke="#000" stroke-width="0.3">50 ms</text>
</g>
<g id="panel-b">
<text transform="translate(1079.53 39.9) scale(1.097 1)" font-size="33.4" font-weight="bold" fill="#141414" stroke="#141414" stroke-width="0.45">Con HEK293 proliferation</text>
<text transform="translate(928.3 403.89) rotate(-90) scale(0.9929 1.08)" font-size="29.3" font-weight="bold" fill="#141414">Percentage Increase</text>
<rect x="1047.05" y="261.9" width="75.2" height="174.5" fill="#ffffff" stroke="#141414" stroke-width="2"/>
<rect x="1159.9" y="231.5" width="75.2" height="204.9" fill="#d9d9d9" stroke="#141414" stroke-width="2"/>
<rect x="1272.8" y="236.4" width="75.2" height="200" fill="#a5a3a5" stroke="#141414" stroke-width="2"/>
<rect x="1385.7" y="230.6" width="75.2" height="205.8" fill="#5c5858" stroke="#141414" stroke-width="2"/>
<rect x="1498.6" y="237.7" width="75.2" height="198.7" fill="#2e2a27" stroke="#141414" stroke-width="2"/>
<path d="M1065.85 244.7H1103.45M1084.65 244.7V279.4M1065.85 279.4H1103.45" fill="none" stroke="#141414" stroke-width="2.05" stroke-linecap="round"/>
<path d="M1178.7 201.1H1216.3M1197.5 201.1V261.8M1178.7 261.8H1216.3" fill="none" stroke="#141414" stroke-width="2.05" stroke-linecap="round"/>
<path d="M1291.6 191.5H1329.2M1310.4 191.5V280.5M1291.6 280.5H1329.2" fill="none" stroke="#141414" stroke-width="2.05" stroke-linecap="round"/>
<path d="M1404.5 180H1442.1M1423.3 180V280.9M1404.5 280.9H1442.1" fill="none" stroke="#141414" stroke-width="2.05" stroke-linecap="round"/>
<path d="M1517.4 193.3H1555M1536.2 193.3V282.3M1517.4 282.3H1555" fill="none" stroke="#141414" stroke-width="2.05" stroke-linecap="round"/>
<ellipse cx="1084.65" cy="229.7" rx="3.85" ry="3.7" fill="none" stroke="#141414" stroke-width="1.95"/>
<ellipse cx="1084.65" cy="267" rx="3.85" ry="3.7" fill="none" stroke="#141414" stroke-width="1.95"/>
<ellipse cx="1084.65" cy="289.6" rx="3.85" ry="3.7" fill="none" stroke="#141414" stroke-width="1.95"/>
<ellipse cx="1197.5" cy="183.1" rx="3.85" ry="3.7" fill="none" stroke="#141414" stroke-width="1.95"/>
<ellipse cx="1197.5" cy="224.5" rx="3.85" ry="3.7" fill="none" stroke="#141414" stroke-width="1.95"/>
<ellipse cx="1197.5" cy="287.2" rx="3.85" ry="3.7" fill="none" stroke="#141414" stroke-width="1.95"/>
<ellipse cx="1310.4" cy="151" rx="3.85" ry="3.7" fill="none" stroke="#141414" stroke-width="1.95"/>
<ellipse cx="1310.4" cy="256.5" rx="3.85" ry="3.7" fill="none" stroke="#141414" stroke-width="1.95"/>
<ellipse cx="1310.4" cy="300.9" rx="3.85" ry="3.7" fill="none" stroke="#141414" stroke-width="1.95"/>
<ellipse cx="1423.3" cy="142.1" rx="3.85" ry="3.7" fill="none" stroke="#141414" stroke-width="1.95"/>
<ellipse cx="1423.3" cy="232.7" rx="3.85" ry="3.7" fill="none" stroke="#141414" stroke-width="1.95"/>
<ellipse cx="1423.3" cy="316.9" rx="3.85" ry="3.7" fill="none" stroke="#141414" stroke-width="1.95"/>
<ellipse cx="1536.2" cy="149" rx="3.85" ry="3.7" fill="none" stroke="#141414" stroke-width="1.95"/>
<ellipse cx="1536.2" cy="276.6" rx="3.85" ry="3.7" fill="none" stroke="#141414" stroke-width="1.95"/>
<ellipse cx="1536.2" cy="288.5" rx="3.85" ry="3.7" fill="none" stroke="#141414" stroke-width="1.95"/>
<path d="M1028.3 83.3V438.79999999999995M1016.3 436.4H1595" fill="none" stroke="#141414" stroke-width="2"/>
<line x1="1016.3" y1="85.7" x2="1028.3" y2="85.7" stroke="#141414" stroke-width="2"/>
<line x1="1016.3" y1="155.84" x2="1028.3" y2="155.84" stroke="#141414" stroke-width="2"/>
<line x1="1016.3" y1="225.98" x2="1028.3" y2="225.98" stroke="#141414" stroke-width="2"/>
<line x1="1016.3" y1="296.12" x2="1028.3" y2="296.12" stroke="#141414" stroke-width="2"/>
<line x1="1016.3" y1="366.26" x2="1028.3" y2="366.26" stroke="#141414" stroke-width="2"/>
<line x1="1084.65" y1="436.4" x2="1084.65" y2="446.9" stroke="#141414" stroke-width="2"/>
<line x1="1197.5" y1="436.4" x2="1197.5" y2="446.9" stroke="#141414" stroke-width="2"/>
<line x1="1310.4" y1="436.4" x2="1310.4" y2="446.9" stroke="#141414" stroke-width="2"/>
<line x1="1423.3" y1="436.4" x2="1423.3" y2="446.9" stroke="#141414" stroke-width="2"/>
<line x1="1536.2" y1="436.4" x2="1536.2" y2="446.9" stroke="#141414" stroke-width="2"/>
<text transform="scale(1.035 1)" font-size="27.3" font-weight="bold" fill="#141414" stroke="#141414" stroke-width="0.3"><tspan x="911.14" y="94.3">1</tspan><tspan x="931.24" y="94.3">0</tspan><tspan x="946.34" y="94.3">0</tspan><tspan x="966.54" y="94.3">0</tspan></text>
<text transform="scale(1.035 1)" font-size="27.3" font-weight="bold" fill="#141414" stroke="#141414" stroke-width="0.3"><tspan x="931.37" y="164.44">8</tspan><tspan x="951.34" y="164.44">0</tspan><tspan x="966.54" y="164.44">0</tspan></text>
<text transform="scale(1.035 1)" font-size="27.3" font-weight="bold" fill="#141414" stroke="#141414" stroke-width="0.3"><tspan x="931.24" y="234.58">6</tspan><tspan x="951.34" y="234.58">0</tspan><tspan x="966.54" y="234.58">0</tspan></text>
<text transform="scale(1.035 1)" font-size="27.3" font-weight="bold" fill="#141414" stroke="#141414" stroke-width="0.3"><tspan x="931.78" y="304.72">4</tspan><tspan x="951.34" y="304.72">0</tspan><tspan x="966.54" y="304.72">0</tspan></text>
<text transform="scale(1.035 1)" font-size="27.3" font-weight="bold" fill="#141414" stroke="#141414" stroke-width="0.3"><tspan x="931.37" y="374.86">2</tspan><tspan x="951.34" y="374.86">0</tspan><tspan x="966.54" y="374.86">0</tspan></text>
<text transform="scale(1.035 1)" font-size="27.3" font-weight="bold" fill="#141414" stroke="#141414" stroke-width="0.3"><tspan x="966.54" y="445">0</tspan></text>
<text transform="translate(1090.65 462.6) scale(1.09 1) rotate(-45) scale(1.0 1)" font-size="26" font-weight="bold" text-anchor="end" fill="#141414" stroke="#141414" stroke-width="0.45">Control</text>
<text transform="translate(1207.1 462.6) scale(1.09 1) rotate(-45) scale(1.0 1)" font-size="26" font-weight="bold" text-anchor="end" fill="#141414" stroke="#141414" stroke-width="0.45">1pM ShK</text>
<text transform="translate(1323.5 462.6) scale(1.09 1) rotate(-45) scale(1.0 1)" font-size="26" font-weight="bold" text-anchor="end" fill="#141414" stroke="#141414" stroke-width="0.45">100pM ShK</text>
<text transform="translate(1432.9 462.6) scale(1.09 1) rotate(-45) scale(1.0 1)" font-size="26" font-weight="bold" text-anchor="end" fill="#141414" stroke="#141414" stroke-width="0.45">150pM ShK</text>
<text transform="translate(1545.8 462.6) scale(1.09 1) rotate(-45) scale(1.0 1)" font-size="26" font-weight="bold" text-anchor="end" fill="#141414" stroke="#141414" stroke-width="0.45">200pM ShK</text>
</g>
<g id="panel-c">
<text transform="translate(183.42 684.4) scale(1.1021 1)" font-size="33.2" font-weight="bold" fill="#141414" stroke="#141414" stroke-width="0.45">HEK293/Kv1.3 proliferation</text>
<text transform="translate(43.2 1040.89) rotate(-90) scale(0.9929 1.08)" font-size="29.3" font-weight="bold" fill="#141414">Percentage Increase</text>
<rect x="158.4" y="869.5" width="75.2" height="205.8" fill="#ffffff" stroke="#141414" stroke-width="2"/>
<rect x="271" y="850.8" width="75.2" height="224.5" fill="#d9d9d9" stroke="#141414" stroke-width="2"/>
<rect x="383.6" y="850.2" width="75.2" height="225.1" fill="#a5a3a5" stroke="#141414" stroke-width="2"/>
<rect x="496.1" y="857.5" width="75.2" height="217.8" fill="#858180" stroke="#141414" stroke-width="2"/>
<rect x="608.8" y="846.6" width="75.2" height="228.7" fill="#2e2a27" stroke="#141414" stroke-width="2"/>
<path d="M177.2 838.2H214.8M196 838.2V901M177.2 901H214.8" fill="none" stroke="#141414" stroke-width="2.05" stroke-linecap="round"/>
<path d="M289.8 818H327.4M308.6 818V883.7M289.8 883.7H327.4" fill="none" stroke="#141414" stroke-width="2.05" stroke-linecap="round"/>
<path d="M402.4 814.2H440M421.2 814.2V886.3M402.4 886.3H440" fill="none" stroke="#141414" stroke-width="2.05" stroke-linecap="round"/>
<path d="M514.9 820.2H552.5M533.7 820.2V896M514.9 896H552.5" fill="none" stroke="#141414" stroke-width="2.05" stroke-linecap="round"/>
<path d="M627.6 817H665.2M646.4 817V876.8M627.6 876.8H665.2" fill="none" stroke="#141414" stroke-width="2.05" stroke-linecap="round"/>
<ellipse cx="196" cy="778.5" rx="3.85" ry="3.7" fill="none" stroke="#141414" stroke-width="1.95"/>
<ellipse cx="196" cy="880.4" rx="3.85" ry="3.7" fill="none" stroke="#141414" stroke-width="1.95"/>
<ellipse cx="190.2" cy="911.9" rx="3.85" ry="3.7" fill="none" stroke="#141414" stroke-width="1.95"/>
<ellipse cx="201.8" cy="908.6" rx="3.85" ry="3.7" fill="none" stroke="#141414" stroke-width="1.95"/>
<ellipse cx="308.6" cy="755.7" rx="3.85" ry="3.7" fill="none" stroke="#141414" stroke-width="1.95"/>
<ellipse cx="302.9" cy="869.5" rx="3.85" ry="3.7" fill="none" stroke="#141414" stroke-width="1.95"/>
<ellipse cx="314.3" cy="872.8" rx="3.85" ry="3.7" fill="none" stroke="#141414" stroke-width="1.95"/>
<ellipse cx="308.6" cy="906.3" rx="3.85" ry="3.7" fill="none" stroke="#141414" stroke-width="1.95"/>
<ellipse cx="421.2" cy="746" rx="3.85" ry="3.7" fill="none" stroke="#141414" stroke-width="1.95"/>
<ellipse cx="421.2" cy="859.9" rx="3.85" ry="3.7" fill="none" stroke="#141414" stroke-width="1.95"/>
<ellipse cx="426.9" cy="894.1" rx="3.85" ry="3.7" fill="none" stroke="#141414" stroke-width="1.95"/>
<ellipse cx="415.4" cy="902.1" rx="3.85" ry="3.7" fill="none" stroke="#141414" stroke-width="1.95"/>
<ellipse cx="533.7" cy="746.2" rx="3.85" ry="3.7" fill="none" stroke="#141414" stroke-width="1.95"/>
<ellipse cx="533.7" cy="877.3" rx="3.85" ry="3.7" fill="none" stroke="#141414" stroke-width="1.95"/>
<ellipse cx="539.4" cy="902.1" rx="3.85" ry="3.7" fill="none" stroke="#141414" stroke-width="1.95"/>
<ellipse cx="528" cy="907" rx="3.85" ry="3.7" fill="none" stroke="#141414" stroke-width="1.95"/>
<ellipse cx="646.4" cy="771.4" rx="3.85" ry="3.7" fill="none" stroke="#141414" stroke-width="1.95"/>
<ellipse cx="640.7" cy="846.2" rx="3.85" ry="3.7" fill="none" stroke="#141414" stroke-width="1.95"/>
<ellipse cx="652.1" cy="853.8" rx="3.85" ry="3.7" fill="none" stroke="#141414" stroke-width="1.95"/>
<ellipse cx="646.4" cy="916.6" rx="3.85" ry="3.7" fill="none" stroke="#141414" stroke-width="1.95"/>
<path d="M140.2 725.5V1077.7M127.69999999999999 1075.3H705" fill="none" stroke="#141414" stroke-width="2"/>
<line x1="127.7" y1="727.9" x2="140.2" y2="727.9" stroke="#141414" stroke-width="2"/>
<line x1="127.7" y1="814.75" x2="140.2" y2="814.75" stroke="#141414" stroke-width="2"/>
<line x1="127.7" y1="901.6" x2="140.2" y2="901.6" stroke="#141414" stroke-width="2"/>
<line x1="127.7" y1="988.45" x2="140.2" y2="988.45" stroke="#141414" stroke-width="2"/>
<line x1="196" y1="1075.3" x2="196" y2="1085.8" stroke="#141414" stroke-width="2"/>
<line x1="308.6" y1="1075.3" x2="308.6" y2="1085.8" stroke="#141414" stroke-width="2"/>
<line x1="421.2" y1="1075.3" x2="421.2" y2="1085.8" stroke="#141414" stroke-width="2"/>
<line x1="533.7" y1="1075.3" x2="533.7" y2="1085.8" stroke="#141414" stroke-width="2"/>
<line x1="646.4" y1="1075.3" x2="646.4" y2="1085.8" stroke="#141414" stroke-width="2"/>
<text transform="translate(60.85 737.5) scale(1.0348 1)" font-size="27.4" font-weight="bold" fill="#141414" stroke="#141414" stroke-width="0.3">2000</text>
<text transform="translate(59.97 824.35) scale(1.0494 1)" font-size="27.4" font-weight="bold" fill="#141414" stroke="#141414" stroke-width="0.3">1500</text>
<text transform="translate(59.97 911.2) scale(1.0494 1)" font-size="27.4" font-weight="bold" fill="#141414" stroke="#141414" stroke-width="0.3">1000</text>
<text transform="translate(76.24 998.05) scale(1.0432 1)" font-size="27.4" font-weight="bold" fill="#141414" stroke="#141414" stroke-width="0.3">500</text>
<text transform="translate(108.1 1082.7) scale(1.0385 1)" font-size="27.4" font-weight="bold" fill="#141414" stroke="#141414" stroke-width="0.3">0</text>
<text transform="translate(199.4 1096.1) scale(1.09 1) rotate(-45) scale(1.0 1)" font-size="26" font-weight="bold" text-anchor="end" fill="#141414" stroke="#141414" stroke-width="0.45">Control</text>
<text transform="translate(318.2 1100.1) scale(1.09 1) rotate(-45) scale(1.0 1)" font-size="26" font-weight="bold" text-anchor="end" fill="#141414" stroke="#141414" stroke-width="0.45">1pM S</text>
<text transform="translate(430.8 1100.1) scale(1.09 1) rotate(-45) scale(1.0 1)" font-size="26" font-weight="bold" text-anchor="end" fill="#141414" stroke="#141414" stroke-width="0.45">100pM S</text>
<text transform="translate(541.8 1100.1) scale(1.09 1) rotate(-45) scale(1.0 1)" font-size="26" font-weight="bold" text-anchor="end" fill="#141414" stroke="#141414" stroke-width="0.45">150pM S</text>
<text transform="translate(656 1100.1) scale(1.09 1) rotate(-45) scale(1.0 1)" font-size="26" font-weight="bold" text-anchor="end" fill="#141414" stroke="#141414" stroke-width="0.45">200pM S</text>
</g>
<g id="panel-d">
<rect x="1066.6" y="902.8" width="36.2" height="174.5" fill="#fff" stroke="#141414" stroke-width="2"/>
<path d="M1075.7 881H1093.3M1084.5 881V924.2M1075.7 924.2H1093.3" fill="none" stroke="#141414" stroke-width="2" stroke-linecap="round"/>
<rect x="1120.8" y="914.7" width="35.2" height="162.6" fill="#121312" stroke="#121312" stroke-width="2"/>
<path d="M1129.6 901.9H1147.2M1138.4 901.9V927M1129.6 927H1147.2" fill="none" stroke="#141414" stroke-width="2" stroke-linecap="round"/>
<rect x="1210.7" y="1000.6" width="36" height="76.7" fill="#fff" stroke="#141414" stroke-width="2"/>
<path d="M1219.7 990.2H1237.3M1228.5 990.2V1011M1219.7 1011H1237.3" fill="none" stroke="#141414" stroke-width="2" stroke-linecap="round"/>
<rect x="1265.2" y="1002.7" width="35.1" height="74.6" fill="#121312" stroke="#121312" stroke-width="2"/>
<path d="M1273.7 994.4H1291.3M1282.5 994.4V1009.9M1273.7 1009.9H1291.3" fill="none" stroke="#141414" stroke-width="2" stroke-linecap="round"/>
<rect x="1354.4" y="818.8" width="36.2" height="258.5" fill="#fff" stroke="#141414" stroke-width="2"/>
<path d="M1363.6 775.8H1381.2M1372.4 775.8V861.4M1363.6 861.4H1381.2" fill="none" stroke="#141414" stroke-width="2" stroke-linecap="round"/>
<rect x="1409.2" y="810.7" width="35.4" height="266.6" fill="#121312" stroke="#121312" stroke-width="2"/>
<path d="M1417.5 785.2H1435.1M1426.3 785.2V832M1417.5 832H1435.1" fill="none" stroke="#141414" stroke-width="2" stroke-linecap="round"/>
<rect x="1498.8" y="1030.1" width="36" height="47.2" fill="#fff" stroke="#141414" stroke-width="2"/>
<path d="M1507.7 1022H1525.3M1516.5 1022V1038.9M1507.7 1038.9H1525.3" fill="none" stroke="#141414" stroke-width="2" stroke-linecap="round"/>
<rect x="1552.9" y="1028.8" width="35.4" height="48.5" fill="#121312" stroke="#121312" stroke-width="2"/>
<path d="M1561.8 1023H1579.4M1570.6 1023V1033.8M1561.8 1033.8H1579.4" fill="none" stroke="#141414" stroke-width="2" stroke-linecap="round"/>
<path d="M1039.4 725.5999999999999V1079.3M1033.4 1077.3H1617" fill="none" stroke="#141414" stroke-width="2"/>
<line x1="1033.4" y1="727.8" x2="1039.4" y2="727.8" stroke="#141414" stroke-width="2"/>
<line x1="1033.4" y1="844.3" x2="1039.4" y2="844.3" stroke="#141414" stroke-width="2"/>
<line x1="1033.4" y1="960.8" x2="1039.4" y2="960.8" stroke="#141414" stroke-width="2"/>
<line x1="1111.4" y1="1077.3" x2="1111.4" y2="1083.3" stroke="#141414" stroke-width="2"/>
<line x1="1255.5" y1="1077.3" x2="1255.5" y2="1083.3" stroke="#141414" stroke-width="2"/>
<line x1="1399.2" y1="1077.3" x2="1399.2" y2="1083.3" stroke="#141414" stroke-width="2"/>
<line x1="1543.4" y1="1077.3" x2="1543.4" y2="1083.3" stroke="#141414" stroke-width="2"/>
<text transform="translate(982 737.7) scale(1.0278 1)" font-size="27.6" font-weight="bold" fill="#141414" stroke="#141414" stroke-width="0.3">150</text>
<text transform="translate(982 854.2) scale(1.0278 1)" font-size="27.6" font-weight="bold" fill="#141414" stroke="#141414" stroke-width="0.3">100</text>
<text transform="translate(998.26 970.7) scale(1.0113 1)" font-size="27.6" font-weight="bold" fill="#141414" stroke="#141414" stroke-width="0.3">50</text>
<text transform="translate(1013.5 1087.2) scale(1.0309 1)" font-size="27.6" font-weight="bold" fill="#141414" stroke="#141414" stroke-width="0.3">0</text>
<text transform="translate(1055.33 1106.7) scale(1.0963 1)" font-size="27.6" font-weight="bold" fill="#141414" stroke="#141414" stroke-width="0.45">Routine</text>
<text transform="translate(1220.05 1106.7) scale(1.0879 1)" font-size="27.6" font-weight="bold" fill="#141414" stroke="#141414" stroke-width="0.45">Leak</text>
<text transform="translate(1369.06 1106.7) scale(1.0814 1)" font-size="27.6" font-weight="bold" fill="#141414" stroke="#141414" stroke-width="0.45">ETS</text>
<text transform="translate(1510.05 1106.7) scale(1.0896 1)" font-size="27.6" font-weight="bold" fill="#141414" stroke="#141414" stroke-width="0.45">ROX</text>
<text transform="rotate(-90) scale(1.0 1.09)" font-size="28.6" font-weight="bold" fill="#141414"><tspan x="-1025.04" y="860.37">O</tspan><tspan x="-1002.01" y="870.09" font-size="16.2" font-weight="normal">2</tspan><tspan x="-992.06" y="860.37">pmol/ s / 1e</tspan><tspan x="-835.32" y="850.37" font-size="16.4" font-weight="normal">6</tspan><tspan x="-823.45" y="860.37"> cells</tspan></text>
<rect x="1462.5" y="728" width="41" height="18" fill="#fff" stroke="#141414" stroke-width="2"/>
<rect x="1462.5" y="768.4" width="41" height="18" fill="#000" stroke="#000" stroke-width="2"/>
<text transform="scale(1.085 1)" font-size="21.6" fill="#000" stroke="#000" stroke-width="0.3"><tspan x="1393" y="746">C</tspan><tspan x="1414.52" y="746">on</tspan><tspan x="1442.74" y="746">tr</tspan><tspan x="1458.98" y="746">ol</tspan></text>
<text transform="scale(1.085 1)" font-size="21.6" fill="#000" stroke="#000" stroke-width="0.3"><tspan x="1393.33" y="786.5">500pM S</tspan><tspan x="1485.88" y="786.5">hk</tspan></text>
</g>
</svg>
</body></html>
